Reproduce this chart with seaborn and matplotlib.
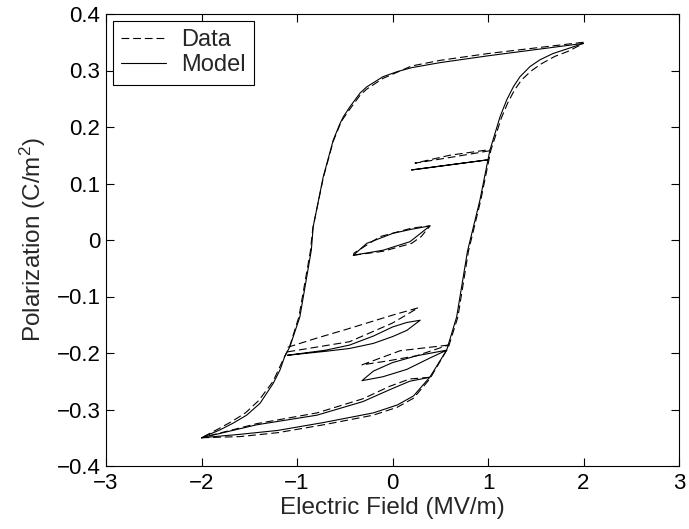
import matplotlib
matplotlib.use("Agg")
import numpy as np
import pandas as pd
import seaborn as sns
import matplotlib.pyplot as plt

# ---------------- data ----------------
# Model (solid) segments
model_desc_E = [2.0, 1.5, 1.0, 0.5, 0.2, 0.05, -0.1, -0.27, -0.34, -0.445, -0.515, -0.55, -0.62, -0.725, -0.83, -0.85, -0.97, -1.075, -1.13, -1.178, -1.25, -1.387, -1.527, -1.667, -1.806, -2.0]
model_desc_P = [0.348, 0.337, 0.326, 0.314, 0.305, 0.298, 0.289, 0.271, 0.260, 0.236, 0.218, 0.206, 0.177, 0.112, 0.024, -0.018, -0.136, -0.189, -0.207, -0.230, -0.254, -0.289, -0.310, -0.324, -0.336, -0.35]

model_asc_E = [-2.0, -1.6, -1.2, -0.72, -0.2, 0.05, 0.22, 0.39, 0.567, 0.672, 0.785, 0.916, 1.02, 1.126, 1.196, 1.265, 1.335, 1.44, 1.545, 1.68, 1.824, 2.0]
model_asc_P = [-0.35, -0.344, -0.337, -0.323, -0.306, -0.292, -0.276, -0.243, -0.195, -0.136, -0.02, 0.071, 0.159, 0.218, 0.248, 0.271, 0.289, 0.307, 0.319, 0.33, 0.338, 0.348]

model_ret_E = [0.39, 0.18, -0.03, -0.31, -0.79, -1.42, -2.0]
model_ret_P = [-0.243, -0.250, -0.265, -0.286, -0.310, -0.327, -0.35]

model_loopA_E = [-1.1, -0.7, -0.45, -0.2, 0.0, 0.15, 0.29, 0.15, 0.0, -0.2, -0.45, -0.7, -1.1]
model_loopA_P = [-0.204, -0.197, -0.192, -0.183, -0.171, -0.160, -0.142, -0.146, -0.154, -0.170, -0.186, -0.195, -0.204]

model_loopB_E = [0.567, 0.25, 0.0, -0.2, -0.32, -0.1, 0.15, 0.39, 0.567]
model_loopB_P = [-0.195, -0.205, -0.217, -0.232, -0.249, -0.242, -0.229, -0.209, -0.195]

model_center_E = [-0.41, -0.2, -0.096, 0.183, 0.393, 0.2, 0.008, -0.27, -0.41]
model_center_P = [-0.027, -0.021, -0.018, -0.003, 0.025, 0.019, 0.012, -0.006, -0.027]

model_ur_E = [1.003, 0.6, 0.2, 0.6, 1.003]
model_ur_P = [0.142, 0.133, 0.124, 0.133, 0.142]

# Data (dashed) segments
data_desc_E = [2.0, 1.5, 1.0, 0.5, 0.2, 0.05, -0.1, -0.27, -0.34, -0.445, -0.52, -0.55, -0.62, -0.725, -0.835, -0.86, -0.98, -1.08, -1.13, -1.19, -1.25, -1.4, -1.54, -1.68, -1.82, -2.0]
data_desc_P = [0.350, 0.340, 0.330, 0.318, 0.308, 0.297, 0.286, 0.267, 0.256, 0.232, 0.214, 0.204, 0.175, 0.110, 0.020, -0.020, -0.136, -0.190, -0.206, -0.228, -0.250, -0.284, -0.306, -0.321, -0.334, -0.35]

data_asc_E = [-2.0, -1.6, -1.2, -0.72, -0.2, 0.05, 0.22, 0.39, 0.585, 0.685, 0.795, 0.925, 1.03, 1.14, 1.21, 1.28, 1.35, 1.45, 1.56, 1.7, 1.84, 2.0]
data_asc_P = [-0.35, -0.348, -0.341, -0.327, -0.310, -0.296, -0.280, -0.246, -0.190, -0.136, -0.02, 0.071, 0.159, 0.216, 0.244, 0.266, 0.283, 0.299, 0.312, 0.325, 0.334, 0.348]

data_ret_E = [0.39, 0.18, -0.03, -0.31, -0.79, -1.42, -2.0]
data_ret_P = [-0.243, -0.246, -0.259, -0.281, -0.306, -0.325, -0.35]

data_loopA_E = [-1.1, -0.45, 0.0, 0.27, 0.0, -0.48, -0.8, -1.1]
data_loopA_P = [-0.198, -0.180, -0.147, -0.120, -0.133, -0.158, -0.174, -0.190]

data_loopB_E = [0.585, 0.08, -0.32, -0.05, 0.25, 0.585]
data_loopB_P = [-0.186, -0.196, -0.221, -0.214, -0.205, -0.186]

data_center_E = [-0.41, -0.1, 0.2, 0.3, 0.393, 0.2, -0.13, -0.41]
data_center_P = [-0.027, -0.020, -0.006, 0.006, 0.025, 0.021, 0.006, -0.024]

data_ur_E = [1.02, 0.6, 0.236, 0.6, 1.02]
data_ur_P = [0.158, 0.146, 0.136, 0.150, 0.160]

x_ticks = [-3, -2, -1, 0, 1, 2, 3]
x_tick_labels = ["\u22123", "\u22122", "\u22121", "0", "1", "2", "3"]
y_ticks = [-0.4, -0.3, -0.2, -0.1, 0.0, 0.1, 0.2, 0.3, 0.4]
y_tick_labels = ["\u22120.4", "\u22120.3", "\u22120.2", "\u22120.1", "0", "0.1", "0.2", "0.3", "0.4"]

# ---------------- build table ----------------
segments = [
    ("Model", model_desc_E, model_desc_P), ("Model", model_asc_E, model_asc_P),
    ("Model", model_ret_E, model_ret_P), ("Model", model_loopA_E, model_loopA_P),
    ("Model", model_loopB_E, model_loopB_P), ("Model", model_center_E, model_center_P),
    ("Model", model_ur_E, model_ur_P),
    ("Data", data_desc_E, data_desc_P), ("Data", data_asc_E, data_asc_P),
    ("Data", data_ret_E, data_ret_P), ("Data", data_loopA_E, data_loopA_P),
    ("Data", data_loopB_E, data_loopB_P), ("Data", data_center_E, data_center_P),
    ("Data", data_ur_E, data_ur_P),
]
rows = []
for i, (src, E, P) in enumerate(segments):
    for j, (e, p) in enumerate(zip(E, P)):
        rows.append({"E": e, "P": p, "source": src, "seg": i, "order": j})
df = pd.DataFrame(rows)

# ---------------- style ----------------
sns.set_style("ticks")
plt.rcParams["font.family"] = ["Liberation Sans", "DejaVu Sans"]
plt.rcParams["mathtext.fontset"] = "custom"
plt.rcParams["mathtext.rm"] = "Liberation Sans"
plt.rcParams["mathtext.it"] = "Liberation Sans:italic"

fig = plt.figure(figsize=(6.89, 5.29), dpi=100)
ax = fig.add_axes([106 / 689, 1 - 466 / 529, (679 - 106) / 689, (466 - 14) / 529])

sns.lineplot(data=df, x="E", y="P", style="source", style_order=["Data", "Model"],
             units="seg", estimator=None, sort=False, color="black", lw=0.8,
             dashes={"Data": (7, 3.5), "Model": ""}, ax=ax, legend=True)

ax.set_xlim(-3, 3)
ax.set_ylim(-0.4, 0.4)
ax.set_xticks(x_ticks)
ax.set_xticklabels(x_tick_labels)
ax.set_yticks(y_ticks)
ax.set_yticklabels(y_tick_labels)
fs = 16
ax.tick_params(direction="in", length=5.5, width=0.8, top=True, right=True,
               labelsize=fs, colors="black")
ax.tick_params(axis="x", pad=5)
ax.tick_params(axis="y", pad=4)
for s in ax.spines.values():
    s.set_visible(True)
    s.set_linewidth(0.8)
    s.set_color("black")
ax.set_xlabel("Electric Field (MV/m)", fontsize=17.5, labelpad=2)
ax.set_ylabel("Polarization (C/m$^2$)", fontsize=17.5, labelpad=6)

handles, labels = ax.get_legend_handles_labels()
hl = [(h, l) for h, l in zip(handles, labels) if l in ("Data", "Model")]
leg = ax.legend([h for h, _ in hl], [l for _, l in hl], loc="upper left",
                fontsize=17, frameon=True, fancybox=False, edgecolor="black",
                framealpha=1, borderaxespad=0.28, handlelength=1.9,
                handletextpad=0.65, borderpad=0.35, labelspacing=0.15)
leg.get_frame().set_linewidth(0.8)
for line in leg.get_lines():
    line.set_linewidth(0.8)
    line.set_color("black")

fig.savefig("out.png", dpi=100, facecolor="white")
